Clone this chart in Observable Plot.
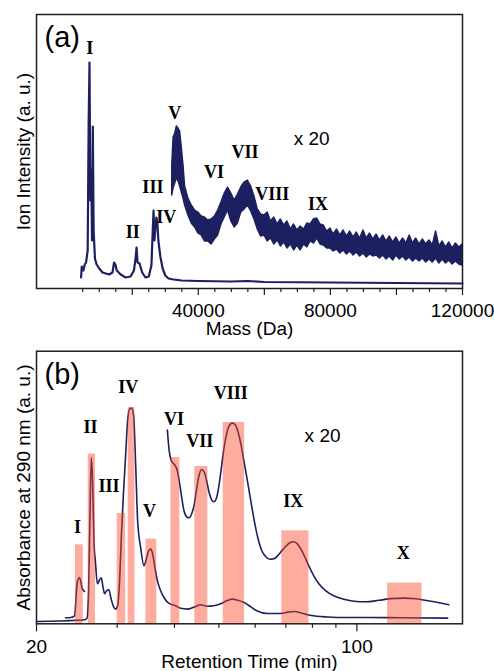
<!DOCTYPE html>
<html><head><meta charset="utf-8">
<script src="https://cdn.jsdelivr.net/npm/d3@7"></script>
<script src="https://cdn.jsdelivr.net/npm/@observablehq/plot@0.6"></script>
<style>
body{margin:0;background:#fff;}
#chart svg{display:block;}
</style></head><body><div id="chart"></div>
<script>
// ---------- Panel (a): mass spectrum ----------
const msLowMass = [4500,4700,5200,5600,6000,6500,6800,7050,7300,7600,7800,8050,8300,8700,9200,10000,11000,12000,13000,14000,14500,14900,15300,16500,18000,19500,20500,21000,21300,21600,22200,23000,24000,25000,25800,26200,26450,26700,27300,27600,27900,28500,29200,30000,31000,32500,35000,40000,50000,55000,60000,80000,100000,120000];
const msLowInt = [11,22,18,24,26,38,168,226,88,118,48,162,58,30,24,20,16,15,14,16,26,24,18,14,11,12,18,30,41,26,25,16,11,12,23,58,78,48,71,66,48,32,20,13,10,9,8,7.5,7,7.5,6.5,6,5.5,5];

const msX20Mass = [32100,32500,33000,33500,34000,34500,35000,35500,36000,37000,38000,39000,40000,41000,42000,43000,44000,45000,46000,47000,48000,49000,50000,51000,52000,53000,54000,55000,56000,57000,58000,59000,60000,61000,62000,63000,64000,65000,66000,67000,68000,69000,70000,71000,72000,73000,74000,75000,76000,77000,78000,79000,80000,81000,82000,83000,84000,85000,86000,87000,88000,89000,90000,91000,92000,93000,94000,95000,96000,97000,98000,99000,100000,101000,102000,103000,104000,105000,106000,107000,108000,109000,110000,111000,112000,113000,114000,115000,116000,117000,118000,119000,120000];
const msX20Hi = [123,151,155,162,160,157,141,124,102,90,83,78,76,72,71,68,69,72,78,86,95,101,95,88,94,101,106,108,102,92,
  79,74,73,76,67,71,64,69,63,67,59,64,58,62,59,65,64,69,70,64,63,57,60,54,59,53,58,52,57,51,56,50,58,50,55,49,54,48,53,47,52,46,51,45,50,45,53,45,50,44,49,44,48,43,57,42,47,41,46,40,45,41,44];
const msX20Lo = [93,100,105,110,107,102,96,90,83,73,65,61,55,53,47,47,44,49,53,64,71,78,67,61,65,76,79,83,77,69,
  59,52,53,47,50,44,48,42,46,40,44,38,43,38,44,41,47,45,50,44,43,40,40,37,39,35,38,34,37,33,36,32,35,31,34,32,33,30,33,29,32,28,33,29,32,28,31,27,30,27,30,26,29,26,30,25,29,25,28,24,27,24,23];

const msPeakNames = ["I","II","III","IV","V","VI","VII","VIII","IX"];
const msPeakLabelMass = [7150,20180,26240,30300,32900,44730,54120,62420,76240];
const msPeakLabelInt = [240,56,101,71,175,116,136,94,84];

const msMinorTicks = [5000,10000,15000,25000,30000,35000,45000,50000,55000,65000,70000,75000,85000,90000,95000,105000,110000,115000];
const msMajorTicks = [20000,40000,60000,80000,100000,120000];
const msLabeledTicks = [40000,80000,120000];

// ---------- Panel (b): chromatogram ----------
const lcTime = [20,24.54,25.47,25.79,25.98,26.15,26.34,26.51,26.69,26.91,27.15,27.39,27.69,27.95,28.16,28.44,28.77,29.09,29.46,29.76,30.06,30.36,30.67,30.98,31.29,31.61,31.93,32.25,32.58,32.91,33.24,33.75,34.31,34.78,35.13,35.48,35.84,36.21,36.71,37.32,37.94,38.66,39.24,40.24,41.27,42.68,44.06,45.62,47.18,48.70,50.46,52.00,53.52,54.97,56.73,58.69,60.48,63.82,68.24,70.68,72.95,75.46,78.04,81.78,86.30,94.63,105.57,124.79,157.81];
const lcAbs = [2.3,3.5,4,6,33,103,166.3,143,83,60,40,43,46,36,30,33,34,25,17,14.7,18,43,93,133,168,203,215,215.7,208,160,103,76.3,58,66,73,74.7,70,58,43,33,26.3,21.5,19.7,18,15.5,14.7,16.5,19,17.5,18,20,23,24.7,23.5,21.3,17,13,10.3,10.3,11.7,12.3,11,9,7.5,6.8,6.3,6.3,6,5.7];

const lcX20aTime = [23.14,23.73,24.21,24.54,24.83,25.17,25.46];
const lcX20aAbs = [6,6.3,8,41,46.3,35,32.3];

const lcX20bTime = [38.60,38.85,39.24,39.65,40.04,40.59,40.96,41.37,41.96,42.53,43.07,43.61,44.16,44.72,45.29,45.86,46.44,47.01,47.62,48.22,48.78,49.34,49.96,50.59,51.23,51.87,52.53,53.47,54.28,55.11,55.94,56.94,57.80,58.69,59.73,60.80,62.03,63.28,64.57,65.88,67.21,68.59,69.98,71.41,72.74,73.96,75.46,76.98,78.55,80.55,82.61,85.57,89.09,93.68,98.50,104.67,111.73,118.67,126.68,134.56,142.93,151.04,158.61];
const lcX20bAbs = [193.7,178,165,161,159,153,143,130,113,107,106,110,119,135,149,154.3,152,143,131,124,122,125,137,155,174,188,197,200.7,199,191,178,158,141,123,103,86,73,67,64.5,65,68,73,77.5,81,82,80.5,75,67,58,48,40,33,28,24.5,22.5,22,23.5,25.2,25.7,25,23,21,19];

const fracNames = ["I","II","III","IV","V","VI","VII","VIII","IX","X"];
const fracStart = [24.33,25.94,30.0,31.7,34.66,39.3,44.3,51.1,68.6,116.7];
const fracEnd = [25.3,26.9,31.3,32.8,36.6,41.1,47.3,56.9,78.6,138.7];
const fracHeight = [79,169.7,110.3,216.3,84.7,166.3,157.3,201.3,93,40.7];
const fracLabelTime = [24.58,26.24,28.77,31.72,35.30,39.91,45.40,53.05,72.61,126.24];
const fracLabelAbs = [96.3,196.3,137.3,236.3,113,204.7,183,230.7,123,70.3];

const lcMinorTicks = [30,40,50,60,70,80,90];
const lcMajorTicks = [20,100];

// ---------- build ----------
const NAVY = "#1c2060";
const SANS = "'Liberation Sans', Arial, Helvetica, sans-serif";
const SERIF = "'Liberation Serif', 'Times New Roman', serif";
const FRAME = "#1e1e1e";
const FS = 19;

const msLow = msLowMass.map((m, i) => ({mass: m, int: msLowInt[i]}));
const msX20 = msX20Mass.map((m, i) => ({mass: m, hi: msX20Hi[i], lo: msX20Lo[i]}));
const msLabels = msPeakNames.map((n, i) => ({name: n, mass: msPeakLabelMass[i], int: msPeakLabelInt[i]}));

const plotA = Plot.plot({
  width: 494, height: 340,
  marginLeft: 36, marginRight: 32, marginTop: 14, marginBottom: 52,
  style: {fontFamily: SANS, fontSize: FS + "px", color: "#111", background: "white"},
  x: {domain: [-9000, 120000]},
  y: {domain: [0, 274], axis: null},
  marks: [
    Plot.line(msLow, {x: "mass", y: "int", stroke: NAVY, strokeWidth: 2.2, strokeLinejoin: "round"}),
    Plot.areaY(msX20, {x: "mass", y1: "lo", y2: "hi", fill: NAVY, stroke: NAVY, strokeWidth: 1.4}),
    Plot.text(msLabels, {x: "mass", y: "int", text: "name", fontFamily: SERIF, fontWeight: "bold", fontSize: 18, fill: "#000"}),
    Plot.text(["x 20"], {x: 74330, y: 150, text: d => d, fontSize: FS, fill: "#000"}),
    Plot.text(["(a)"], {frameAnchor: "top-left", dx: 25.7, dy: 23.3, textAnchor: "middle", lineAnchor: "middle", text: d => d, fontSize: 29, fill: "#000"}),
    Plot.text(["Ion Intensity (a. u.)"], {frameAnchor: "left", rotate: -90, dx: -13, textAnchor: "middle", lineAnchor: "middle", text: d => d, fontSize: FS, fill: "#000"}),
    Plot.text(["Mass (Da)"], {frameAnchor: "bottom", dy: 40, textAnchor: "middle", lineAnchor: "middle", text: d => d, fontSize: FS, fill: "#000"}),
    Plot.frame({stroke: FRAME, strokeWidth: 1.5}),
    Plot.axisX({ticks: msMinorTicks, tickSize: 4, tickFormat: () => "", label: null, stroke: FRAME, strokeWidth: 1.2}),
    Plot.axisX({ticks: msMajorTicks, tickSize: 7, tickPadding: 8, fontSize: FS, tickFormat: d => msLabeledTicks.includes(d) ? String(d) : "", label: null, stroke: FRAME, strokeWidth: 1.2, fill: "#000"})
  ]
});

const lcMain = lcTime.map((t, i) => ({t, a: lcAbs[i]}));
const lcX20a = lcX20aTime.map((t, i) => ({t, a: lcX20aAbs[i]}));
const lcX20b = lcX20bTime.map((t, i) => ({t, a: lcX20bAbs[i]}));
const fractions = fracNames.map((n, i) => ({name: n, start: fracStart[i], end: fracEnd[i], height: fracHeight[i], lt: fracLabelTime[i], la: fracLabelAbs[i]}));

const plotB = Plot.plot({
  width: 494, height: 331,
  marginLeft: 36, marginRight: 32, marginTop: 10.7, marginBottom: 47.7,
  style: {fontFamily: SANS, fontSize: FS + "px", color: "#111", background: "white"},
  x: {type: "log", domain: [20, 170]},
  y: {domain: [0, 272.6], axis: null},
  marks: [
    Plot.line(lcMain, {x: "t", y: "a", stroke: NAVY, strokeWidth: 1.6, curve: "monotone-x"}),
    Plot.line(lcX20a, {x: "t", y: "a", stroke: NAVY, strokeWidth: 1.6, curve: "monotone-x"}),
    Plot.line(lcX20b, {x: "t", y: "a", stroke: NAVY, strokeWidth: 1.6, curve: "monotone-x"}),
    Plot.rect(fractions, {x1: "start", x2: "end", y1: 0, y2: "height", fill: "rgb(250,70,40)", fillOpacity: 0.45}),
    Plot.text(fractions, {x: "lt", y: "la", text: "name", fontFamily: SERIF, fontWeight: "bold", fontSize: 18, fill: "#000"}),
    Plot.text(["x 20"], {x: 84.17, y: 188, text: d => d, fontSize: FS, fill: "#000"}),
    Plot.text(["(b)"], {frameAnchor: "top-left", dx: 25.7, dy: 23.3, textAnchor: "middle", lineAnchor: "middle", text: d => d, fontSize: 29, fill: "#000"}),
    Plot.text(["Absorbance at 290 nm (a. u.)"], {frameAnchor: "left", rotate: -90, dx: -13, textAnchor: "middle", lineAnchor: "middle", text: d => d, fontSize: FS, fill: "#000"}),
    Plot.text(["Retention Time (min)"], {frameAnchor: "bottom", dy: 38.4, textAnchor: "middle", lineAnchor: "middle", text: d => d, fontSize: FS, fill: "#000"}),
    Plot.frame({stroke: FRAME, strokeWidth: 1.5}),
    Plot.axisX({ticks: lcMinorTicks, tickSize: 4.5, tickFormat: () => "", label: null, stroke: FRAME, strokeWidth: 1.2}),
    Plot.axisX({ticks: lcMajorTicks, tickSize: 8, tickPadding: 8, fontSize: FS, tickFormat: d => String(d), label: null, stroke: FRAME, strokeWidth: 1.2, fill: "#000"})
  ]
});

document.getElementById("chart").append(plotA, plotB);
</script></body></html>
